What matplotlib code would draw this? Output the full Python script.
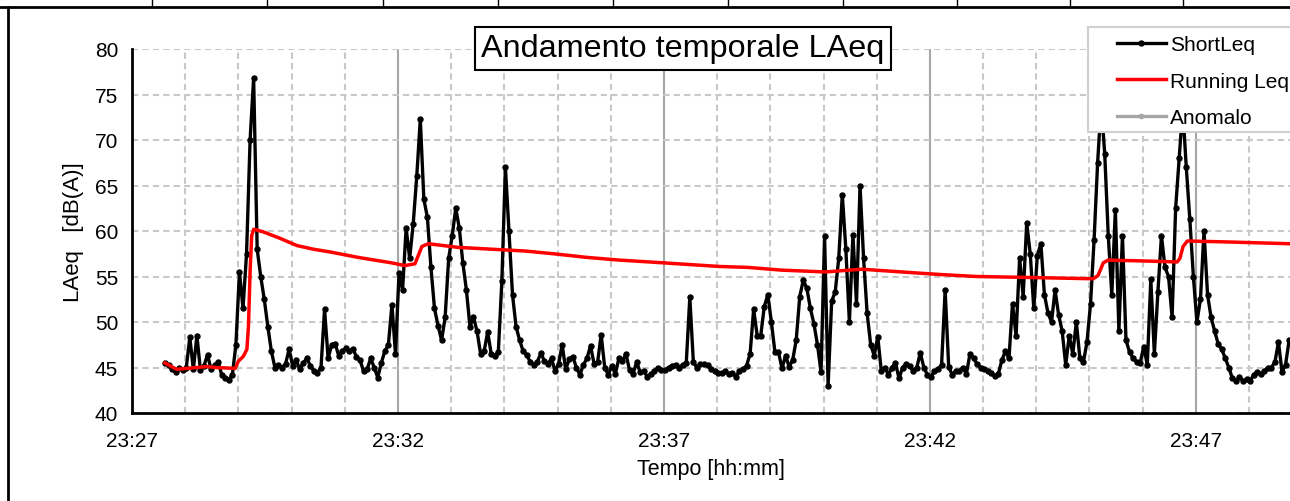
import matplotlib
matplotlib.use("Agg")
import matplotlib.pyplot as plt
from matplotlib.lines import Line2D
from matplotlib.patches import Rectangle
import numpy as np

plt.rcParams['font.family'] = ['Liberation Sans', 'DejaVu Sans']

# ---------------- data ----------------
# ShortLeq samples every 4 s, starting 23:27:37 (minutes after 23:27)
start_min = 0.62
step_s = 4

short_a = [45.5, 45.3, 44.8, 44.5, 44.9, 44.7, 45.0, 48.3, 44.8, 48.5,
           44.7, 45.2, 46.4, 44.8, 45.3, 45.6, 44.2, 43.9, 43.6, 44.2,
           47.5, 55.5, 51.5, 57.5, 70.0, 76.8, 58.0, 55.0, 52.5, 49.5,
           46.8, 45.0, 45.3, 45.0, 45.4, 47.0, 45.2, 45.8, 44.8, 45.5,
           46.0, 45.2, 44.6, 44.4, 45.0, 51.4, 46.0]
short_b = [47.5, 47.6, 46.3, 46.8, 47.1, 46.8, 47.0, 46.2, 45.8, 44.6,
           44.8, 46.0, 45.0, 43.9, 45.5, 46.8, 47.5, 51.9, 46.5, 55.4,
           53.5, 60.3, 57.0, 60.8, 66.0, 72.3, 63.5, 61.5, 56.0, 51.5,
           49.6, 48.0, 50.5, 57.0, 59.5, 62.5, 60.3, 56.5, 53.5, 49.5,
           50.5, 49.0, 46.5, 46.8, 48.9, 46.5, 46.3, 46.7, 54.5, 67.0,
           60.0, 53.0, 49.5, 48.0, 46.8, 46.4]
short_c = [45.6, 45.3, 45.6, 46.6, 45.7, 45.4, 46.0, 44.6, 45.4, 47.5,
           44.8, 45.9, 46.2, 45.0, 44.2, 45.3, 46.0, 47.4, 45.4, 45.6,
           48.6, 45.0, 44.2, 45.2, 44.3, 46.0, 45.7, 46.5, 44.7, 44.3,
           45.6, 44.5, 44.6, 44.0, 44.3, 44.6, 45.0, 44.7, 44.7, 45.0,
           45.2, 45.3, 45.0, 45.3, 45.5, 52.7, 45.6, 45.0, 45.4, 45.4,
           45.3, 44.8, 44.6, 44.4]
short_d = [44.4, 44.6, 44.3, 44.4, 44.0, 44.6, 44.8, 45.2, 46.5, 51.4,
           48.5, 48.5, 51.7, 53.0, 50.0, 46.7, 46.7, 44.9, 46.3, 45.1,
           45.8, 48.0, 52.8, 54.6, 53.7, 51.5, 49.8, 47.5, 44.5, 59.4,
           43.0, 52.3, 53.3, 57.0, 64.0, 58.0, 50.0, 59.6, 52.0, 65.0,
           57.0, 51.0, 47.5, 46.3, 48.4, 44.6, 45.0, 44.2, 45.0, 45.5,
           43.8, 45.0, 45.4, 45.2, 44.6]
short_e = [45.0, 46.6, 45.0, 44.2, 44.0, 44.6, 44.8, 45.3, 53.5, 45.1,
           44.2, 44.6, 44.6, 45.0, 44.3, 46.5, 46.0, 45.4, 45.0, 44.8,
           44.6, 44.4, 44.1, 44.3, 45.8, 46.8, 46.0, 52.0, 48.5, 57.0,
           52.8, 60.9, 57.5, 51.5, 57.3, 58.6, 53.0, 51.0, 50.0, 53.5,
           50.8, 49.0, 45.3, 48.5, 46.5, 50.0, 46.0, 45.6, 47.8, 52.0,
           59.0, 67.5, 74.0, 68.5, 59.5]
short_f = [53.0, 62.3, 49.0, 59.5, 48.0, 46.7, 46.0, 45.6, 45.5, 47.3,
           45.3, 54.7, 46.5, 53.3, 59.5, 56.0, 55.0, 50.5, 62.5, 68.0,
           73.5, 67.0, 61.3, 55.0, 50.0, 52.5, 60.0, 53.0, 50.5, 49.0,
           47.6, 47.0, 46.0, 45.0, 43.8, 43.5, 44.0, 43.5, 43.7, 43.5,
           44.2, 44.5, 44.3, 44.6, 45.0, 45.0, 45.6, 47.8, 44.5, 45.3,
           48.0]
short_leq = short_a + short_b + short_c + short_d + short_e + short_f

# Running Leq (minutes after 23:27, dB(A))
run_t = [0.62, 0.84, 1.22, 1.40, 1.59, 1.94, 2.00, 2.09, 2.16, 2.19,
         2.22, 2.25, 2.29, 2.47, 2.78, 3.10, 3.41, 3.72, 4.25, 4.88,
         5.13, 5.32, 5.45, 5.57, 6.13, 6.76, 7.39, 7.92, 8.55, 9.17,
         9.99, 11.05, 11.58, 12.21, 13.03, 13.72, 14.72, 15.25, 15.88, 16.82,
         18.07, 18.16, 18.26, 18.35, 19.07, 19.65, 19.70, 19.76, 19.84, 20.58,
         21.77]
run_v = [45.5, 44.8, 45.0, 45.1, 45.0, 44.9, 45.7, 46.2, 47.0, 49.6,
         55.5, 59.5, 60.2, 59.9, 59.2, 58.4, 58.0, 57.7, 57.1, 56.5,
         56.2, 56.4, 58.3, 58.6, 58.2, 58.0, 57.8, 57.5, 57.1, 56.8,
         56.5, 56.1, 56.0, 55.7, 55.5, 55.8, 55.4, 55.2, 55.0, 54.9,
         54.75, 55.1, 56.5, 56.8, 56.7, 56.6, 57.0, 58.3, 58.9, 58.8,
         58.6]

anom_t = []
anom_v = []

tick_pos = [0, 5, 10, 15, 20]
tick_lab = ["23:27", "23:32", "23:37", "23:42", "23:47"]
y_ticks = [40, 45, 50, 55, 60, 65, 70, 75, 80]

t_short = start_min + np.arange(len(short_leq)) * step_s / 60.0

# ---------------- figure ----------------
W, H = 1290, 502
fig = plt.figure(figsize=(W / 100, H / 100), dpi=100)
ax = fig.add_axes([132 / W, 88 / H, (W - 132) / W, 364 / H])

l1, = ax.plot(t_short, short_leq, color='black', lw=2.4, marker='o',
              ms=3.6, zorder=3, label='ShortLeq')
l2, = ax.plot(run_t, run_v, color='#ff0000', lw=2.5, zorder=4,
              label='Running Leq')
l3, = ax.plot(anom_t, anom_v, color='#a6a6a6', lw=2.4, marker='o',
              ms=3.0, label='Anomalo')

ax.set_xlim(0, 21.77)
ax.set_ylim(40, 80)
ax.set_yticks(y_ticks)
ax.set_xticks(tick_pos)
ax.set_xticklabels(tick_lab)
ax.set_xticks([m for m in range(22) if m % 5], minor=True)

ax.grid(which='major', axis='x', color='#a6a6a6', lw=1.5, ls='-', zorder=0)
ax.grid(which='minor', axis='x', color='#c8c8c8', lw=1.5, ls=(0, (3, 2)), zorder=0)
ax.grid(which='major', axis='y', color='#c8c8c8', lw=1.5, ls=(0, (3, 2)), zorder=0)
ax.set_axisbelow(True)

for s in ['top', 'right']:
    ax.spines[s].set_visible(False)
for s in ['left', 'bottom']:
    ax.spines[s].set_linewidth(2.0)
    ax.spines[s].set_color('black')

ax.tick_params(axis='both', which='both', length=0, labelsize=15)
ax.tick_params(axis='x', pad=13)
ax.tick_params(axis='y', pad=10)

ax.set_xlabel('Tempo [hh:mm]', fontsize=15.5, labelpad=6)
ax.set_ylabel('LAeq   [dB(A)]', fontsize=16, labelpad=8)

# Title box
fig.text(683 / W, 1 - 49.5 / H, 'Andamento temporale LAeq', ha='center',
         va='center', fontsize=23.3, zorder=6,
         bbox=dict(boxstyle='square,pad=0.2', fc='white', ec='black', lw=1.5))

# Legend frame and legend
frame = Rectangle((1088 / W, 1 - 133 / H), (1310 - 1088) / W, (133 - 28) / H,
                  transform=fig.transFigure, fc='white', ec='#d0d0d0', lw=1.5,
                  zorder=5)
fig.add_artist(frame)
leg = fig.legend([l1, l2, l3], ['ShortLeq', 'Running Leq', 'Anomalo'],
                 loc='upper left', bbox_to_anchor=(1117 / W, 1 - 36 / H),
                 frameon=False, fontsize=15, handlelength=2.35,
                 handletextpad=0.2, labelspacing=0.85, borderpad=0,
                 borderaxespad=0)
leg.set_zorder(7)

# Surrounding table borders
fig.add_artist(Line2D([0, 1], [1 - 8 / H, 1 - 8 / H], transform=fig.transFigure,
                      color='black', lw=2))
fig.add_artist(Line2D([8 / W, 8 / W], [0, 1 - 8 / H], transform=fig.transFigure,
                      color='black', lw=2))
for xd in [152, 267, 383, 498, 613, 728, 843, 957, 1070, 1183]:
    fig.add_artist(Line2D([xd / W, xd / W], [1 - 8 / H, 1], transform=fig.transFigure,
                          color='black', lw=1))

fig.savefig('out.png', dpi=100)
